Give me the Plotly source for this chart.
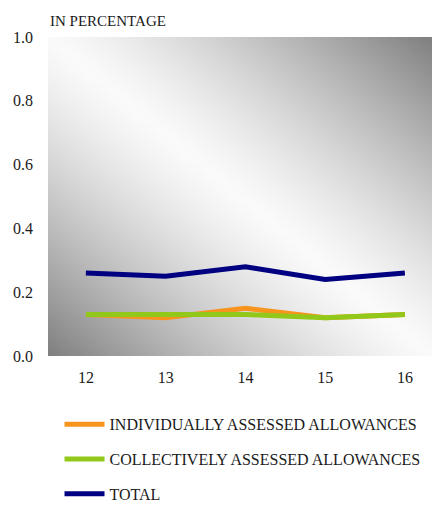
import base64, struct, zlib
import plotly.graph_objects as go

years = [12, 13, 14, 15, 16]
individually = [0.13, 0.12, 0.15, 0.12, 0.13]
collectively = [0.13, 0.13, 0.13, 0.12, 0.13]
total = [0.26, 0.25, 0.28, 0.24, 0.26]
series_names = ["INDIVIDUALLY ASSESSED ALLOWANCES",
                "COLLECTIVELY ASSESSED ALLOWANCES",
                "TOTAL"]
y_ticks = [0.0, 0.2, 0.4, 0.6, 0.8, 1.0]


def gradient_png(w=192, h=160, light=250, dark=128, p=1.3):
    rows = []
    for j in range(h):
        yb = 1 - j / (h - 1)
        row = bytearray([0])
        for i in range(w):
            u = i / (w - 1) + yb
            d = min(1.0, abs(u - 1))
            v = int(round(light - (light - dark) * d ** p))
            row.append(v)
        rows.append(bytes(row))
    raw = b"".join(rows)

    def chunk(t, data):
        c = struct.pack(">I", len(data)) + t + data
        return c + struct.pack(">I", zlib.crc32(t + data) & 0xffffffff)
    png = b"\x89PNG\r\n\x1a\n"
    png += chunk(b"IHDR", struct.pack(">IIBBBBB", w, h, 8, 0, 0, 0, 0))
    png += chunk(b"IDAT", zlib.compress(raw, 9))
    png += chunk(b"IEND", b"")
    return "data:image/png;base64," + base64.b64encode(png).decode()


font = "Liberation Serif, Times New Roman, serif"
txt = "#1a1a1a"
fig = go.Figure()
colors = ["#F7941D", "#92C81A", "#000080"]
for name, vals, c in zip(series_names, [individually, collectively, total], colors):
    fig.add_trace(go.Scatter(x=years, y=vals, mode="lines", name=name,
                             legendgroup=name,
                             line=dict(color=c, width=5)))

fig.update_layout(
    width=435, height=506, autosize=False,
    margin=dict(l=48, r=3, t=37, b=150),
    paper_bgcolor="white", plot_bgcolor="white",
    font=dict(family=font, size=16, color=txt),
    showlegend=True,
    legend=dict(orientation="v", x=0.03, xanchor="left",
                yref="container", y=0.195, yanchor="top",
                tracegroupgap=11, itemwidth=40,
                font=dict(family=font, size=16, color=txt),
                bgcolor="rgba(0,0,0,0)"),
    xaxis=dict(range=[11.525, 16.34], tickvals=years, ticktext=[str(v) for v in years],
               showgrid=False, zeroline=False, showline=False, ticks="",
               ticklabelstandoff=10, tickfont=dict(size=16)),
    yaxis=dict(range=[0, 1.0], tickvals=y_ticks, tickformat=".1f",
               showgrid=False, zeroline=False, showline=False, ticks="",
               ticklabelstandoff=14, tickfont=dict(size=16)),
    images=[dict(source=gradient_png(), xref="paper", yref="paper", x=0, y=1,
                 sizex=1, sizey=1, xanchor="left", yanchor="top",
                 sizing="stretch", layer="below")],
    annotations=[dict(text="IN PERCENTAGE", xref="paper", yref="paper", x=0, y=1,
                      xanchor="left", yanchor="middle", yshift=16, showarrow=False,
                      font=dict(family=font, size=15, color=txt))],
)

fig.write_html("out.html")
